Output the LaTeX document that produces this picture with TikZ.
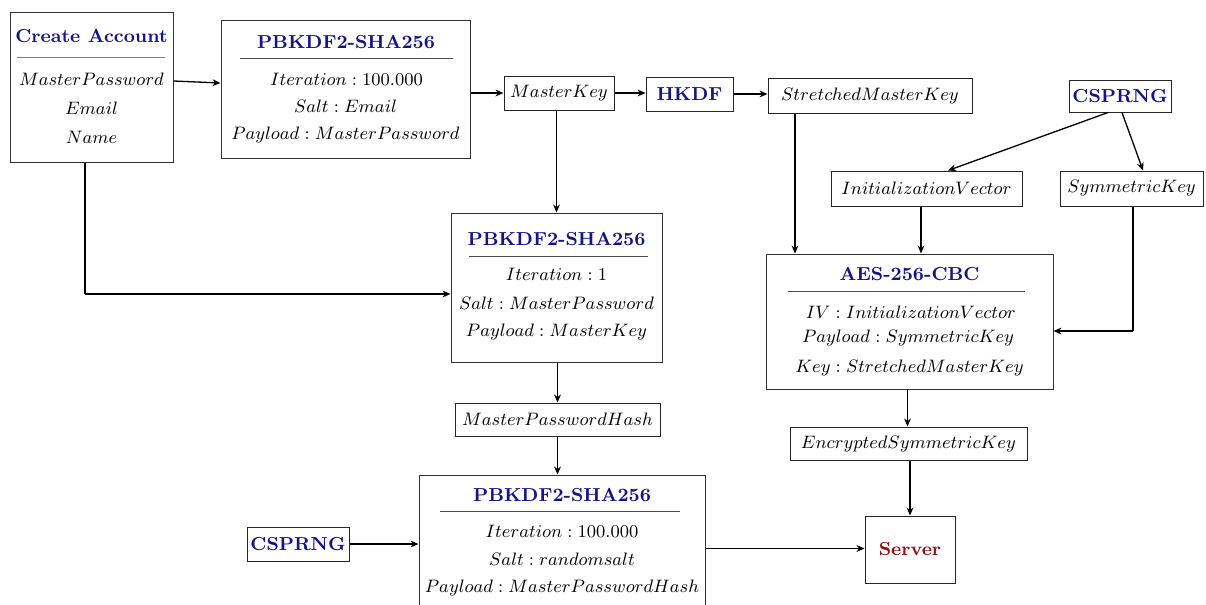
\documentclass[tikz,border=0pt]{standalone}
\usetikzlibrary{arrows.meta,fit}
\definecolor{ttl}{RGB}{20,20,135}
\definecolor{srv}{RGB}{145,15,15}
\begin{document}
\begin{tikzpicture}[x=0.5pt,y=-0.5pt,
  every node/.append style={font=\fontsize{9.25}{11}\selectfont},
  bigbox/.style={draw=black!80, line width=0.5pt, inner sep=0pt},
  sbox/.style={draw=black!85, line width=0.5pt, inner sep=0pt},
  bold/.style={font=\fontsize{9.4}{11}\selectfont\bfseries},
  ttlf/.style={bold, text=ttl, inner sep=0pt},
  txt/.style={inner sep=0pt},
  sep/.style={draw=black!70, line width=0.5pt},
  ln/.style={line width=0.65pt},
  arr/.style={ln, -{Stealth[length=4pt,width=3.4pt]}}]
\useasboundingbox (0,0) rectangle (1206,605);
\clip (0,0) rectangle (1206,605);

% --- account input ---
\node[bigbox, fit={(10,12) (173,162)}] (ca) {};
\node[ttlf] (caT) at (91.5,36) {Create Account};
\draw[sep, draw=black!50] (17,57) -- (165,57);
\node[txt] (ca1) at (91.5,79) {$MasterPassword$};
\node[txt] (ca2) at (91.5,108) {$Email$};
\node[txt] (ca3) at (91.5,137) {$Name$};

% --- first key derivation ---
\node[bigbox, fit={(221,20) (470,158)}] (pb1) {};
\node[ttlf] (pb1T) at (346,42) {PBKDF2-SHA256};
\draw[sep] (240,58) -- (453,58);
\node[txt] (pb11) at (346.5,79) {$Iteration : 100.000$};
\node[txt] (pb12) at (345.5,106) {$Salt : Email$};
\node[txt] (pb13) at (345.5,135) {$Payload : MasterPassword$};

% --- small boxes ---
\node[sbox, minimum width=55pt, minimum height=17pt] (mk) at (559,93) {$MasterKey$};
\node[sbox, minimum width=43.5pt, minimum height=17pt, bold, text=ttl] (hk) at (689.5,94) {HKDF};
\node[sbox, minimum width=102pt, minimum height=17.5pt] (smk) at (870,95.5) {$StretchedMasterKey$};
\node[sbox, minimum width=51pt, minimum height=16pt, bold, text=ttl] (cs1) at (1120,96) {CSPRNG};
\node[sbox, minimum width=95.5pt, minimum height=17.5pt] (iv) at (926.5,188.5) {$InitializationVector$};
\node[sbox, minimum width=71.5pt, minimum height=17.5pt] (sk) at (1131.5,188.5) {$SymmetricKey$};
\node[sbox, minimum width=102.5pt, minimum height=16.5pt] (mph) at (557.5,419.5) {$MasterPasswordHash$};
\node[sbox, minimum width=118.5pt, minimum height=16.5pt] (esk) at (908.5,443.5) {$EncryptedSymmetricKey$};
\node[sbox, minimum width=51pt, minimum height=17pt, bold, text=ttl] (cs2) at (298,544) {CSPRNG};
\node[sbox, minimum width=45pt, minimum height=33.5pt, bold, text=srv] (srv) at (910,549.5) {Server};

% --- second key derivation ---
\node[bigbox, fit={(451,213) (662,362)}] (pb2) {};
\node[ttlf] (pb2T) at (556.5,239) {PBKDF2-SHA256};
\draw[sep] (469,256) -- (648,256);
\node[txt] (pb21) at (556.5,274) {$Iteration : 1$};
\node[txt] (pb22) at (556.5,303) {$Salt : MasterPassword$};
\node[txt] (pb23) at (556.5,332) {$Payload : MasterKey$};

% --- encryption ---
\node[bigbox, fit={(766,254) (1053,389)}] (aes) {};
\node[ttlf] (aesT) at (909.5,274) {AES-256-CBC};
\draw[sep] (788,291) -- (1025,291);
\node[txt] (aes1) at (911,312) {$IV : InitializationVector$};
\node[txt] (aes2) at (908,338) {$Payload : SymmetricKey$};
\node[txt] (aes3) at (909.5,368) {$Key : StretchedMasterKey$};

% --- server side hashing ---
\node[bigbox, fit={(419,475) (705,622)}] (pb3) {};
\node[ttlf] (pb3T) at (562,495) {PBKDF2-SHA256};
\draw[sep] (440,511) -- (680,511);
\node[txt] (pb31) at (562,531) {$Iteration : 100.000$};
\node[txt] (pb32) at (562,559) {$Salt : randomsalt$};
\node[txt] (pb33) at (562,588) {$Payload : MasterPasswordHash$};

% --- connectors ---
\coordinate (caC) at (85,294);
\coordinate (skC) at (1133,331);
\draw[arr] ([yshift=3pt]ca.east) -- ([yshift=3pt]pb1.west);
\draw[arr] (pb1.east |- mk.west) -- (mk.west);
\draw[arr] (mk.east) -- (hk.west |- mk.east);
\draw[arr] (hk.east) -- (smk.west |- hk.east);
\draw[arr] (mk.south -| pb2.north) -- (pb2.north);
\draw[ln] (caC |- ca.south) -- (caC);
\draw[arr] (caC) -- (pb2.west |- caC);
\draw[arr] ([xshift=-37.5pt]smk.south) -- ([xshift=-37.5pt]smk.south |- aes.north);
\draw[arr] ([xshift=-6pt]cs1.south) -- ([xshift=10.75pt]iv.north);
\draw[arr] ([xshift=1pt]cs1.south) -- ([xshift=5.75pt]sk.north);
\draw[arr] ([xshift=-2.75pt]iv.south) -- ([xshift=-2.75pt]iv.south |- aes.north);
\draw[ln] (skC |- sk.south) -- (skC);
\draw[arr] (skC) -- (aes.east |- skC);
\draw[arr] ([xshift=-1pt]aes.south) -- ([xshift=-1pt]aes.south |- esk.north);
\draw[arr] (esk.south -| srv.north) -- (srv.north);
\draw[arr] (pb2.south -| mph.north) -- (mph.north);
\draw[arr] (mph.south) -- (mph.south |- pb3.north);
\draw[arr] (cs2.east) -- (cs2.east -| pb3.west);
\draw[arr] (pb3.east) -- (srv.west |- pb3.east);
\end{tikzpicture}
\end{document}
